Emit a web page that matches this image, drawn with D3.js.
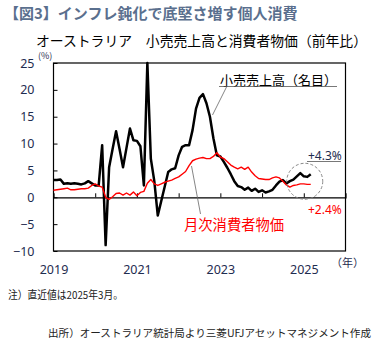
<!DOCTYPE html>
<html><head><meta charset="utf-8">
<script src="https://cdn.jsdelivr.net/npm/d3@7"></script>
<style>
body{margin:0;background:#fff;}
svg{display:block;}
text{font-family:"Noto Sans CJK JP","Noto Sans",sans-serif;}
</style></head>
<body><svg id="c" width="379" height="342"></svg>
<script>
// Monthly data Jan 2019 – Mar 2025 (YoY %)
const startYear = 2019;
const retailSales = [3.2,3.2,3.3,2.5,2.6,2.5,2.6,2.5,2.4,2.6,3.0,2.6,
  2.2,2.2,9.7,-8.9,5.6,9.0,12.3,9.0,5.6,9.2,12.8,10.6,
  10.5,9.5,2.2,25.0,7.2,3.0,-3.4,-0.7,2.0,4.7,5.2,5.4,
  7.8,9.4,9.7,9.7,12.5,16.5,18.5,19.2,17.5,15.0,11.0,7.8,
  7.6,6.6,5.5,4.3,3.0,2.1,1.9,1.4,1.8,1.2,1.6,1.0,
  1.3,0.9,1.1,1.4,2.2,2.9,3.2,2.6,3.0,3.3,3.9,4.5,
  3.9,3.8,4.3];
const monthlyCPI = [1.3,1.4,1.5,1.6,1.7,1.4,1.4,1.5,1.6,1.6,1.7,2.2,
  2.5,2.1,1.9,0.0,-0.4,0.1,0.7,0.8,0.4,0.8,0.4,1.0,
  0.3,0.9,1.1,2.6,3.3,2.5,2.2,2.5,2.8,3.0,3.2,3.5,
  3.8,4.3,4.8,5.9,6.8,7.1,7.3,7.4,7.2,7.2,7.6,8.3,
  7.5,7.2,6.6,6.0,5.6,5.3,5.6,5.2,5.6,4.7,4.0,3.5,
  3.4,3.3,3.3,3.6,3.8,3.6,3.0,2.3,1.9,2.2,2.3,2.5,
  2.5,2.4,2.4];
const yTicks = [25,20,15,10,5,0,-5,-10];
const xLabelYears = [2019,2021,2023,2025];
const xTickYears = [2020,2021,2022,2023,2024,2025];
const latestRetail = "+4.3%";
const latestCPI = "+2.4%";

const svg = d3.select("#c");
const L = 53.5, R = 345.5, T = 63, B = 251;
const x = d3.scaleLinear().domain([2019, 2026]).range([L, R]);
const y = d3.scaleLinear().domain([-10, 25]).range([B, T]);
const navy = "#1f2d50";

// title
svg.append("text").attr("x",4).attr("y",19).attr("fill","#5a6f8e")
  .attr("font-size",15).attr("font-weight","bold").text("【図3】インフレ鈍化で底堅さ増す個人消費");
svg.append("text").attr("x",36).attr("y",46).attr("fill","#000")
  .attr("font-size",14).attr("textLength",331).attr("lengthAdjust","spacingAndGlyphs")
  .text("オーストラリア　小売売上高と消費者物価（前年比）");
svg.append("text").attr("x",38).attr("y",59).attr("fill",navy)
  .attr("font-size",9).text("(%)");

// frame
svg.append("rect").attr("x",L).attr("y",T).attr("width",R-L).attr("height",B-T)
  .attr("fill","none").attr("stroke","#000").attr("stroke-width",1.2);

// y axis
const yAxis = d3.axisLeft(y).tickValues(yTicks).tickSize(-4).tickPadding(19).tickFormat(d3.format("d"));
const gy = svg.append("g").attr("transform",`translate(${L},0)`).call(yAxis);
gy.select(".domain").remove();
gy.selectAll("line").attr("stroke","#000").attr("stroke-width",1);
gy.selectAll("text").attr("fill",navy).attr("font-size",12.5)
  .style("font-family","'Noto Sans','DejaVu Sans',sans-serif");

// zero line with ticks upward
const gx = svg.append("g").attr("transform",`translate(0,${y(0)})`)
  .call(d3.axisTop(x).tickValues(xTickYears).tickSize(4).tickFormat(""));
gx.select(".domain").attr("stroke","#000").attr("stroke-width",1.2);
gx.selectAll("line").attr("stroke","#000");

// x labels
const gxl = svg.append("g").attr("transform",`translate(0,${B})`)
  .call(d3.axisBottom(x).tickValues(xLabelYears).tickSize(0).tickPadding(14).tickFormat(d3.format("d")));
gxl.select(".domain").remove();
gxl.selectAll("text").attr("fill",navy).attr("font-size",12.5)
  .style("font-family","'Noto Sans','DejaVu Sans',sans-serif");
svg.append("text").attr("x",331).attr("y",267).attr("fill",navy).attr("font-size",11).text("（年）");

const tx = i => x(startYear + i/12);
const line = d3.line().x((d,i)=>tx(i)).y(d=>y(d));

svg.append("path").datum(retailSales).attr("d",line).attr("fill","none")
  .attr("stroke","#000").attr("stroke-width",2.5).attr("stroke-linejoin","round");
svg.append("path").datum(monthlyCPI).attr("d",line).attr("fill","none")
  .attr("stroke","#ff0000").attr("stroke-width",1.4).attr("stroke-linejoin","round");

// dashed circle around latest points
const last = retailSales.length-1;
svg.append("circle").attr("cx",tx(last)-6).attr("cy",(y(retailSales[last])+y(monthlyCPI[last]))/2+2)
  .attr("r",18).attr("fill","none").attr("stroke","#888").attr("stroke-width",1).attr("stroke-dasharray","3,2");

// annotations
svg.append("line").attr("x1",227).attr("y1",86).attr("x2",212.5).attr("y2",115)
  .attr("stroke","#666").attr("stroke-width",0.8);
svg.append("text").attr("x",220).attr("y",85).attr("fill","#000").attr("font-size",13).text("小売売上高（名目）");
svg.append("line").attr("x1",219).attr("y1",86.5).attr("x2",337).attr("y2",86.5).attr("stroke","#555").attr("stroke-width",0.8);

svg.append("line").attr("x1",200.5).attr("y1",214).attr("x2",191.5).attr("y2",166)
  .attr("stroke","#666").attr("stroke-width",0.8);
svg.append("text").attr("x",184).attr("y",230).attr("fill","#ff0000").attr("font-size",14.3).text("月次消費者物価");

svg.append("text").attr("x",308).attr("y",160).attr("fill",navy).attr("font-size",12)
  .style("font-family","'Noto Sans','DejaVu Sans',sans-serif").text(latestRetail);
svg.append("line").attr("x1",307).attr("y1",161.5).attr("x2",341).attr("y2",161.5).attr("stroke","#555").attr("stroke-width",0.8);
svg.append("text").attr("x",308).attr("y",214).attr("fill","#ff0000").attr("font-size",12)
  .style("font-family","'Noto Sans','DejaVu Sans',sans-serif").text(latestCPI);

// notes
svg.append("text").attr("x",8).attr("y",299).attr("fill","#222").attr("font-size",11)
  .attr("textLength",115).attr("lengthAdjust","spacingAndGlyphs").text("注）直近値は2025年3月。");
svg.append("text").attr("x",48).attr("y",336.5).attr("fill","#222").attr("font-size",10.5)
  .attr("textLength",323).attr("lengthAdjust","spacingAndGlyphs")
  .text("出所）オーストラリア統計局より三菱UFJアセットマネジメント作成");
</script></body></html>
